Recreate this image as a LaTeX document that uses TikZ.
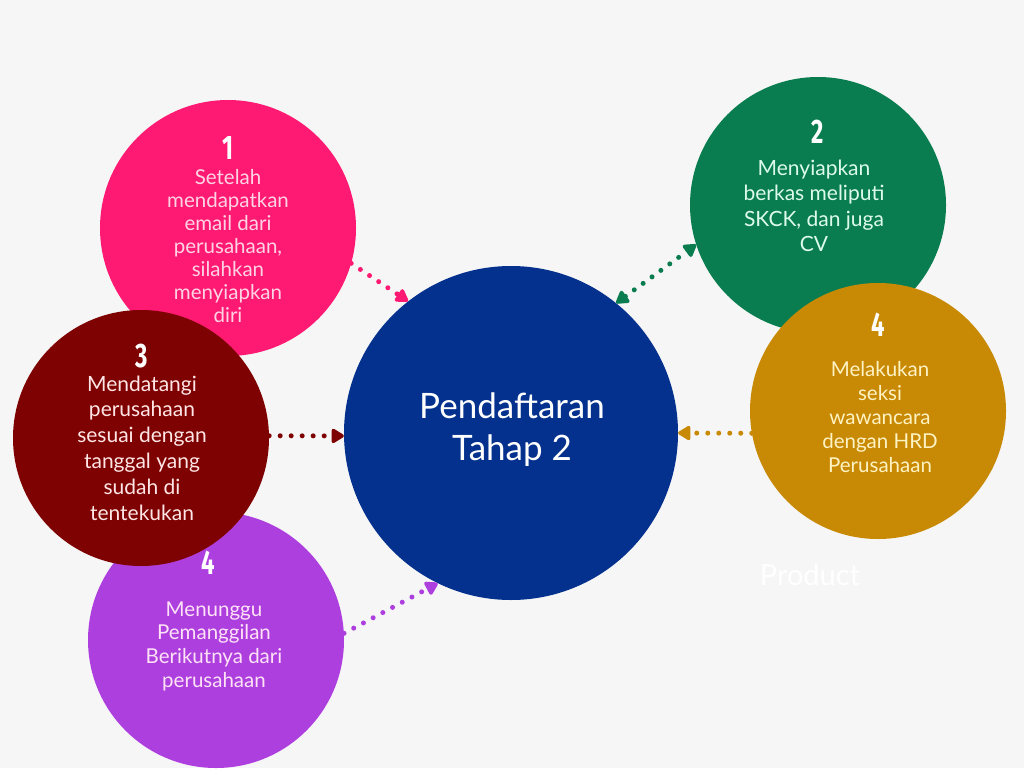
\documentclass[tikz,border=0pt]{standalone}
\usepackage{fontspec}
\setmainfont{Lato}
\newfontfamily\numfont[FakeStretch=0.7]{Fira Sans}
\usetikzlibrary{arrows.meta}

\definecolor{bg}{HTML}{F6F6F6}
\definecolor{cpink}{HTML}{FE1A72}
\definecolor{cgreen}{HTML}{0A7D50}
\definecolor{cred}{HTML}{7F0202}
\definecolor{cgold}{HTML}{C88A05}
\definecolor{cpurple}{HTML}{AE3FDF}
\definecolor{cblue}{HTML}{03318D}
\definecolor{tpink}{HTML}{FFD3E4}
\definecolor{tgreen}{HTML}{DDFBEA}
\definecolor{tred}{HTML}{FFE6E6}
\definecolor{tgold}{HTML}{FFF3C4}
\definecolor{tpurple}{HTML}{FFE2F6}

\tikzset{dtip/.tip={Triangle[length=14pt,width=16pt,round]}}

\begin{document}
\begin{tikzpicture}[x=1pt,y=-1pt,
  bubble/.style={circle, fill=#1, minimum size=256pt, inner sep=0pt},
  num/.style={text=white, font=\numfont\bfseries\fontsize{34}{34}\selectfont},
  body/.style={align=center, inner sep=0pt, font=\fontsize{20.5}{24.5}\selectfont},
  link/.style={draw=#1, line width=5pt, line cap=round,
    dash pattern=on 0pt off 11pt},
]
\fill[bg] (0,0) rectangle (1024,768);
\useasboundingbox (0,0) rectangle (1024,768);

% step bubbles (later ones overlap earlier ones)
\node[bubble=cgreen] (c2) at (818,205) {};
\node[bubble=cgold] (c4r) at (878,411) {};
\node[bubble=cpink] (c1) at (228,228) {};
\node[bubble=cpurple] (c4b) at (216,640) {};
\node[bubble=cred] (c3) at (141,438) {};
\node[circle, fill=cblue, minimum size=334pt, inner sep=0pt] (hub) at (511,433) {};

% step numbers
\node[num] (n1) at (228,148) {1};
\node[num] (n2) at (818,132) {2};
\node[num] (n3) at (142,356) {3};
\node[num] (n4r) at (878,325) {4};
\node[num] (n4b) at (208,563) {4};

% step descriptions
\node[body, text=tpink, font=\fontsize{20.5}{23}\selectfont] (t1) at (228,246)
  {Setelah\\mendapatkan\\email dari\\perusahaan,\\silahkan\\menyiapkan\\diri};
\node[body, text=tgreen, font=\fontsize{21}{25.5}\selectfont] (t2) at (814,206)
  {Menyiapkan\\berkas meliputi\\SKCK, dan juga\\CV};
\node[body, text=tred, font=\fontsize{21}{25.8}\selectfont] (t3) at (142,448)
  {Mendatangi\\perusahaan\\sesuai dengan\\tanggal yang\\sudah di\\tentekukan};
\node[body, text=tgold, font=\fontsize{20.5}{24}\selectfont] (t4r) at (880,417)
  {Melakukan\\seksi\\wawancara\\dengan HRD\\Perusahaan};
\node[body, text=tpurple, font=\fontsize{20.5}{23.7}\selectfont] (t4b) at (214,646)
  {Menunggu\\Pemanggilan\\Berikutnya dari\\perusahaan};

% hub title
\node[align=center, text=white, inner sep=0pt,
  font=\fontsize{35}{42}\selectfont] (title) at (512,430)
  {Pendaftaran\\Tahap 2};

\node[text=white, font=\fontsize{29}{29}\selectfont] (prod) at (810,575) {Product};

% dotted connectors
\draw[link=cpink, -dtip] (c1.-16) -- (hub.128);
\draw[link=cgreen, dtip-dtip] (hub.51) -- (c2.198);
\draw[link=cred, -dtip] (c3.1) -- (hub.181);
\draw[link=cgold, -dtip] (c4r.190) -- (hub.0);
\draw[link=cpurple, -dtip] (c4b.3.5) -- (hub.244);
\end{tikzpicture}
\end{document}
